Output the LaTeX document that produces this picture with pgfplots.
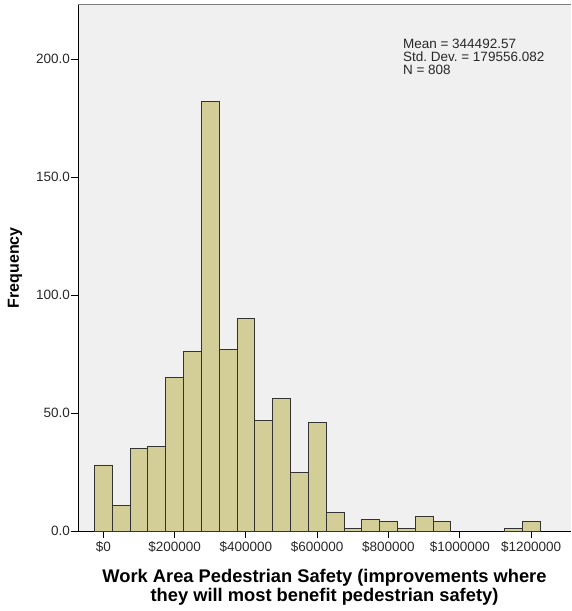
\documentclass[border=0pt]{standalone}
\usepackage{fontspec}
\setmainfont{Liberation Sans}
\usepackage{pgfplots}
\pgfplotsset{compat=1.18}
\definecolor{barfill}{RGB}{211,206,152}
\definecolor{bgfill}{RGB}{240,240,240}
\definecolor{tickgray}{RGB}{40,40,40}
\frenchspacing
\begin{document}
\begin{tikzpicture}
\begin{axis}[
  at={(0,0)}, anchor=south west,
  scale only axis,
  width=493pt, height=526.5pt,
  xmin=-71000, xmax=1312000,
  ymin=0, ymax=223.1,
  axis x line*=bottom, axis y line*=left,
  axis line style={black, line width=0.9pt},
  axis background/.style={fill=bgfill},
  tick align=outside,
  major tick length=7pt,
  tick style={black, line width=0.9pt},
  xtick={0,200000,400000,600000,800000,1000000,1200000},
  xticklabels={\$0,\$200000,\$400000,\$600000,\$800000,\$1000000,\$1200000},
  ytick={0,50,100,150,200},
  /pgf/number format/assume math mode=true,
  yticklabel style={/pgf/number format/.cd, fixed, fixed zerofill, precision=1, /tikz/.cd, inner xsep=1pt},
  ticklabel style={font=\fontsize{13.5pt}{15pt}\selectfont, text=tickgray},
  xticklabel style={yshift=0pt},
  scaled x ticks=false,
  every axis y label/.style={at={(axis description cs:0,0.5)}, xshift=-63pt, rotate=90, anchor=center, font=\fontsize{16pt}{18pt}\selectfont\bfseries},
  every axis x label/.style={at={(axis description cs:0.5,0)}, yshift=-56pt, anchor=center, align=center, font=\fontsize{18.3pt}{19pt}\selectfont\bfseries},
  ylabel={Frequency},
  xlabel={Work Area Pedestrian Safety (improvements where\\they will most benefit pedestrian safety)},
  clip=false,
]
\addplot[ybar, bar width=50000, bar shift=0pt, fill=barfill, draw=black!80, line width=0.8pt]
  coordinates {
  (0,28) (50000,11) (100000,35) (150000,36) (200000,65) (250000,76)
  (300000,182) (350000,77) (400000,90) (450000,47) (500000,56) (550000,25)
  (600000,46) (650000,8) (700000,1) (750000,5) (800000,4) (850000,1)
  (900000,6) (950000,4) (1150000,1) (1200000,4)
  };
\draw[gray, line width=1.2pt] (rel axis cs:0,1) -- (rel axis cs:1,1);
\node[anchor=north west, align=left, inner sep=0pt, font=\fontsize{13.5pt}{13pt}\selectfont, text=tickgray]
  at (rel axis cs:0.659,0.935) {Mean = 344492.57\\Std. Dev. = 179556.082\\N = 808};
\end{axis}
\path[use as bounding box] (-78pt,-80pt) rectangle (493pt,531pt);
\end{tikzpicture}
\end{document}
